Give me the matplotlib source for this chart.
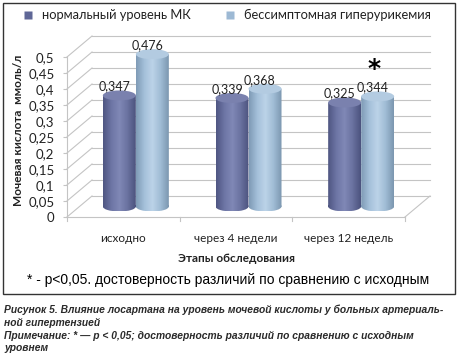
import numpy as np
import matplotlib
matplotlib.use("Agg")
import matplotlib.pyplot as plt
from matplotlib.patches import Rectangle, Ellipse
from matplotlib.lines import Line2D
from matplotlib.path import Path
from matplotlib.colors import LinearSegmentedColormap

# ---- data ----
categories = ["исходно", "через 4 недели", "через 12 недель"]
series_names = ["нормальный уровень МК", "бессимптомная гиперурикемия"]
normal_vals = [0.347, 0.339, 0.325]
hyper_vals = [0.476, 0.368, 0.344]
y_ticks = [0, 0.05, 0.1, 0.15, 0.2, 0.25, 0.3, 0.35, 0.4, 0.45, 0.5]
y_label = "Мочевая кислота  ммоль/л"
x_label = "Этапы обследования"
footnote = "* - p<0,05. достоверность различий по сравнению с исходным"
caption = ["Рисунок 5. Влияние лосартана на уровень мочевой кислоты у больных артериаль-",
           "ной гипертензией",
           "Примечание: * — p < 0,05; достоверность различий по сравнению с исходным",
           "уровнем"]

W, H = 458, 355
fig = plt.figure(figsize=(W / 100, H / 100), dpi=100)
fig.patch.set_facecolor("white")

px_x0, px_x1 = 67, 440
px_y0, px_y1 = 217, 30
cat_px = (405 - 67) / 3.0
val_px = 16 / 0.05
xmin = -0.5
xmax = xmin + (px_x1 - px_x0) / cat_px
ymax = (px_y0 - px_y1) / val_px

ax = fig.add_axes([px_x0 / W, 1 - px_y0 / H, (px_x1 - px_x0) / W, (px_y0 - px_y1) / H])
ax.set_xlim(xmin, xmax)
ax.set_ylim(0, ymax)
for s in ax.spines.values():
    s.set_visible(False)
ax.set_xticks([])

ddx = 25 / cat_px
ddy = 21 / val_px
grid_c = "#c4c4c4"

ax.set_yticks(y_ticks)
ax.set_yticklabels(["0" if v == 0 else ("%g" % v).replace(".", ",") for v in y_ticks],
                   fontsize=9.5, color="#222222", family="Lato")
ax.tick_params(axis="y", length=3, color=grid_c, pad=6)

front_l = xmin
back_l = xmin + ddx
back_r = 2.5 + ddx
for v in y_ticks:
    ax.plot([front_l, back_l], [v, v + ddy], color=grid_c, lw=0.8, clip_on=False, zorder=1)
    ax.plot([back_l, back_r], [v + ddy, v + ddy], color=grid_c, lw=0.8, clip_on=False, zorder=1)
ax.plot([front_l, front_l], [0, y_ticks[-1]], color=grid_c, lw=0.8, clip_on=False, zorder=1)
ax.plot([front_l, 2.5], [0, 0], color=grid_c, lw=0.8, clip_on=False, zorder=1)
ax.plot([2.5, back_r], [0, ddy], color=grid_c, lw=0.8, clip_on=False, zorder=1)
for b in [-0.5, 0.5, 1.5, 2.5]:
    ax.plot([b, b], [0, -4 / val_px], color=grid_c, lw=0.8, clip_on=False, zorder=1)

bw = 33 / cat_px
eh = 10 / val_px
x = np.arange(len(categories))
series = [normal_vals, hyper_vals]
body_cols = [["#4f5682", "#6d75a5", "#8088b6", "#6a72a0", "#4c537e"],
             ["#7f9bb6", "#a4c0da", "#bcd3e8", "#a0bcd5", "#7c97b0"]]
top_cols = ["#7a81ae", "#b3cbe1"]
offs = [-bw / 2, bw / 2]

for si, vals in enumerate(series):
    cmap = LinearSegmentedColormap.from_list("c%d" % si, body_cols[si])
    grad = np.linspace(0, 1, 64).reshape(1, -1)
    bars = ax.bar(x + offs[si] + ddx / 2, vals, width=bw, bottom=ddy / 2,
                  color="none", edgecolor="none", zorder=3 + si)
    for bar, v in zip(bars, vals):
        cx = bar.get_x() + bw / 2
        im = ax.imshow(grad, cmap=cmap, aspect="auto",
                       extent=[bar.get_x(), bar.get_x() + bw, ddy / 2 - eh / 2, ddy / 2 + v],
                       zorder=3 + si)
        rect = Rectangle((bar.get_x(), ddy / 2), bw, v)
        ell_b = Ellipse((cx, ddy / 2), bw, eh)
        rp = rect.get_path().transformed(rect.get_patch_transform())
        ep = ell_b.get_path().transformed(ell_b.get_patch_transform())
        rcodes = rp.codes if rp.codes is not None else [Path.MOVETO] + [Path.LINETO] * (len(rp.vertices) - 2) + [Path.CLOSEPOLY]
        clip = Path(np.vstack([rp.vertices, ep.vertices]), np.concatenate([rcodes, ep.codes]))
        im.set_clip_path(clip, ax.transData)
        top = Ellipse((cx, ddy / 2 + v), bw, eh, facecolor=top_cols[si],
                      edgecolor="none", zorder=3.5 + si)
        ax.add_patch(top)
        ax.text(cx - 5 / cat_px, ddy / 2 + v + eh / 2 - 2 / val_px,
                ("%.3f" % v).replace(".", ","), ha="center", va="bottom",
                fontsize=9, color="#222222", family="Lato", zorder=10)

ax.text(2 + offs[1] + ddx / 2 - 4 / cat_px, hyper_vals[2] + ddy / 2 + 0.085, "*",
        ha="center", va="center", fontsize=18, fontweight="bold", color="black",
        family="DejaVu Sans", zorder=10)

for xi, c in enumerate(categories):
    fig.text((px_x0 + (xi + 0.5) * cat_px) / W, 1 - 238 / H, c, ha="center", va="center",
             fontsize=8.5, color="#222222", family="Lato")

fig.text(236 / W, 1 - 259 / H, x_label, ha="center", va="center",
         fontsize=8.5, fontweight="bold", color="#222222", family="Lato")
fig.text(19 / W, 1 - 130 / H, y_label, ha="center", va="center", rotation=90,
         fontsize=8.5, fontweight="bold", color="#222222", family="Lato")

handles = [Line2D([], [], marker="s", linestyle="none", markersize=6,
                  markerfacecolor="#5f6797", markeredgecolor="none"),
           Line2D([], [], marker="s", linestyle="none", markersize=6,
                  markerfacecolor="#9db9d4", markeredgecolor="none")]
fig.legend(handles, series_names, loc="center", bbox_to_anchor=(223 / W, 1 - 15 / H),
           ncol=2, frameon=False, handletextpad=0.1, columnspacing=2.0,
           prop={"family": "Lato", "size": 9.3}, labelcolor="#222222")

fig.text(228 / W, 1 - 280 / H, footnote, ha="center", va="center",
         fontsize=10, color="black", family="Liberation Sans")

fig.patches.append(Rectangle((3 / W, 1 - 294 / H), 452 / W, 291 / H, transform=fig.transFigure,
                             fill=False, edgecolor="#333333", lw=1.0))

for line, ypx in zip(caption, [310, 323, 336, 348]):
    fig.text(4 / W, 1 - ypx / H, line, ha="left", va="center", fontsize=7.35,
             fontweight="bold", fontstyle="italic", color="#2a2a2a", family="Liberation Sans")

fig.savefig("out.png", dpi=100)
